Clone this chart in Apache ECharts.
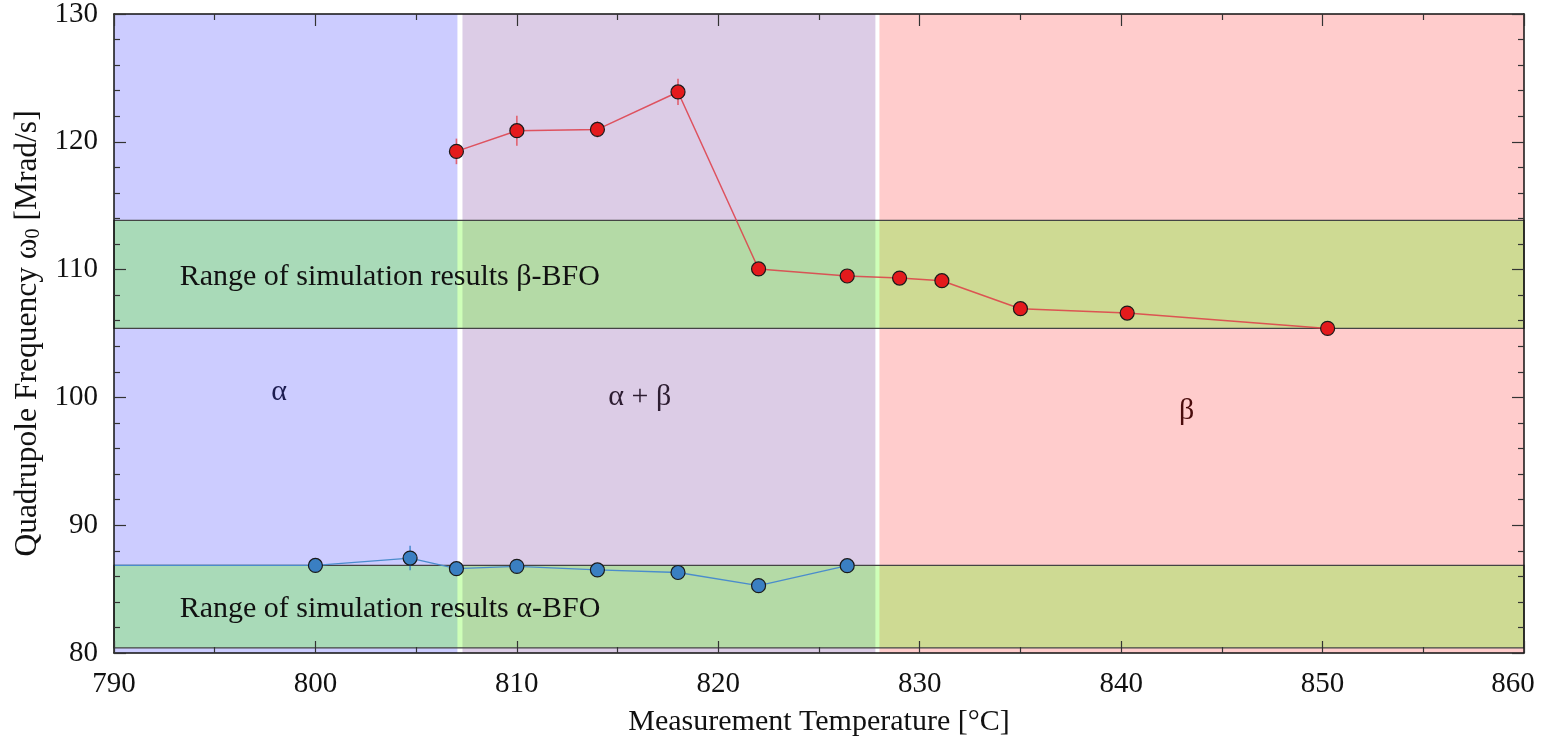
<!DOCTYPE html>
<html>
<head>
<meta charset="utf-8">
<script src="https://cdn.jsdelivr.net/npm/echarts@6/dist/echarts.min.js"></script>
<style>
  html, body { margin: 0; padding: 0; background: #fff; }
  #chart { width: 1542px; height: 741px; }
</style>
</head>
<body>
<div id="chart"></div>
<script>
// Quadrupole frequency of BFO versus measurement temperature

// Phase regions along the temperature axis [start, end, colour]
const phaseRegions = [
  [790, 807.05, '#ccccff'],
  [807.3, 827.8, '#dcccE6'],
  [828.0, 860, '#ffcccc']
];
// Simulated ranges of ω0 [low, high]
const simBands = [
  [105.4, 113.85],
  [80.4, 86.85]
];

// β-phase measurements
const betaTemps = [807.0, 810.0, 814.0, 818.0, 822.0, 826.4, 829.0, 831.1, 835.0, 840.3, 850.25];
const betaFreq  = [119.25, 120.87, 120.97, 123.9, 110.05, 109.5, 109.34, 109.13, 106.94, 106.6, 105.4];
const betaErr   = [1.0, 1.17, 0.63, 1.03, 0.3, 0.3, 0.3, 0.3, 0.3, 0.3, 0.3];

// α-phase measurements (first entry continues the trace to the axis edge)
const alphaTemps = [790.0, 800.0, 804.7, 807.0, 810.0, 814.0, 818.0, 822.0, 826.4];
const alphaFreq  = [86.85, 86.85, 87.43, 86.6, 86.78, 86.5, 86.3, 85.27, 86.83];
const alphaErr   = [0, 0.3, 0.96, 0.3, 0.3, 0.3, 0.3, 0.3, 0.3];

// Annotation text [x, y, text, colour, align]
const annotations = [
  [798.2, 100.45, 'α', '#1c1c50', 'center'],
  [816.1, 100.06, 'α + β', '#2c1c30', 'center'],
  [843.25, 98.9, 'β', '#4a0c0c', 'center'],
  [793.26, 109.45, 'Range of simulation results β-BFO', '#111', 'left'],
  [793.26, 83.47, 'Range of simulation results α-BFO', '#111', 'left']
];

const xTicks = { min: 790, max: 860, interval: 10 };
const yTicks = { min: 80, max: 130, interval: 10 };

const FONT = '"Liberation Serif", "DejaVu Serif", serif';
const FS = 30;       // annotations and axis names
const FS_TICK = 29;  // tick labels
const FS_YNAME = 31.5;

const chart = echarts.init(document.getElementById('chart'), null, { renderer: 'canvas' });

function errorBars(temps, vals, errs, color) {
  return {
    type: 'custom',
    z: 4,
    silent: true,
    data: temps.map((t, i) => [t, vals[i], errs[i]]),
    renderItem: function (params, api) {
      const x = api.value(0), y = api.value(1), e = api.value(2);
      const p1 = api.coord([x, y - e]);
      const p2 = api.coord([x, y + e]);
      return {
        type: 'line',
        shape: { x1: p1[0], y1: p1[1], x2: p2[0], y2: p2[1] },
        style: { stroke: color, lineWidth: 1.6 }
      };
    }
  };
}

const axisCommon = {
  z: 10,
  axisLine: { show: true, onZero: false, lineStyle: { color: '#111', width: 1.5 } },
  axisTick: { show: true, inside: true, length: 12, lineStyle: { color: '#333', width: 1.2 } },
  minorTick: { show: true, length: 6, lineStyle: { color: '#333', width: 1.2 } },
  splitLine: { show: false }
};

const option = {
  animation: false,
  backgroundColor: '#fff',
  grid: { left: 114, right: 18, top: 14, bottom: 88, containLabel: false, outerBoundsMode: 'none' },
  xAxis: [
    Object.assign({}, axisCommon, {
      type: 'value', position: 'bottom',
      min: xTicks.min, max: xTicks.max, interval: xTicks.interval,
      minorTick: Object.assign({}, axisCommon.minorTick, { splitNumber: 2 }),
      axisLabel: {
        fontFamily: FONT, fontSize: FS_TICK, color: '#111', margin: 17,
        // keep the last label inside the canvas
        formatter: v => (v === xTicks.max ? '{last|' + v + '}' : String(v)),
        rich: { last: { fontFamily: FONT, fontSize: FS_TICK, color: '#111', padding: [0, 22, 0, 0] } }
      },
      name: 'Measurement Temperature [°C]',
      nameLocation: 'middle', nameGap: 54,
      nameTextStyle: { fontFamily: FONT, fontSize: FS, color: '#111' }
    }),
    Object.assign({}, axisCommon, {
      type: 'value', position: 'top',
      min: xTicks.min, max: xTicks.max, interval: xTicks.interval,
      minorTick: Object.assign({}, axisCommon.minorTick, { splitNumber: 2 }),
      axisLabel: { show: false }
    })
  ],
  yAxis: [
    Object.assign({}, axisCommon, {
      type: 'value', position: 'left',
      min: yTicks.min, max: yTicks.max, interval: yTicks.interval,
      minorTick: Object.assign({}, axisCommon.minorTick, { splitNumber: 5 }),
      axisLabel: { fontFamily: FONT, fontSize: FS_TICK, color: '#111', margin: 16 },
      name: 'Quadrupole Frequency ω{sub|0} [Mrad/s]',
      nameLocation: 'middle', nameGap: 70, nameRotate: 90,
      nameTextStyle: {
        fontFamily: FONT, fontSize: FS_YNAME, color: '#111',
        rich: { sub: { fontFamily: FONT, fontSize: 20, color: '#111', verticalAlign: 'bottom', padding: [10, 0, 0, 0] } }
      }
    }),
    Object.assign({}, axisCommon, {
      type: 'value', position: 'right',
      min: yTicks.min, max: yTicks.max, interval: yTicks.interval,
      minorTick: Object.assign({}, axisCommon.minorTick, { splitNumber: 5 }),
      axisLabel: { show: false }
    })
  ],
  series: [
    // phase regions
    {
      type: 'scatter', data: [], z: 0, silent: true,
      markArea: {
        silent: true,
        data: phaseRegions.map(r => [
          { xAxis: r[0], yAxis: yTicks.min, itemStyle: { color: r[2], opacity: 1 } },
          { xAxis: r[1], yAxis: yTicks.max }
        ])
      }
    },
    // simulation ranges
    {
      type: 'scatter', data: [], z: 1, silent: true,
      markArea: {
        silent: true,
        itemStyle: { color: 'rgba(79,255,0,0.28)', borderColor: '#444', borderWidth: 1.2, opacity: 1 },
        data: simBands.map(b => [
          { xAxis: xTicks.min, yAxis: b[0] },
          { xAxis: xTicks.max, yAxis: b[1] }
        ])
      }
    },
    errorBars(betaTemps, betaFreq, betaErr, 'rgba(225,70,80,0.8)'),
    errorBars(alphaTemps, alphaFreq, alphaErr, 'rgba(60,130,200,0.85)'),
    {
      name: 'α', type: 'line', z: 5,
      data: alphaTemps.map((t, i) => ({
        value: [t, alphaFreq[i]],
        symbol: i === 0 ? 'none' : 'circle'
      })),
      symbolSize: 14,
      lineStyle: { color: '#4a8ccc', width: 1.3 },
      itemStyle: { color: '#3a7fc2', borderColor: '#1a1a1a', borderWidth: 1.2 }
    },
    {
      name: 'β', type: 'line', z: 6,
      data: betaTemps.map((t, i) => [t, betaFreq[i]]),
      symbol: 'circle', symbolSize: 14,
      lineStyle: { color: 'rgba(222,60,70,0.85)', width: 1.5 },
      itemStyle: { color: '#e41a1c', borderColor: '#1a1a1a', borderWidth: 1.2 }
    },
    // text annotations
    {
      type: 'scatter', z: 7, silent: true, symbolSize: 0,
      itemStyle: { opacity: 1 },
      data: annotations.map(a => ({
        value: [a[0], a[1]],
        label: {
          show: true, formatter: a[2], position: 'inside',
          align: a[4], verticalAlign: 'middle',
          fontFamily: FONT, fontSize: FS, color: a[3], opacity: 1
        }
      }))
    }
  ]
};

chart.setOption(option);
</script>
</body>
</html>
